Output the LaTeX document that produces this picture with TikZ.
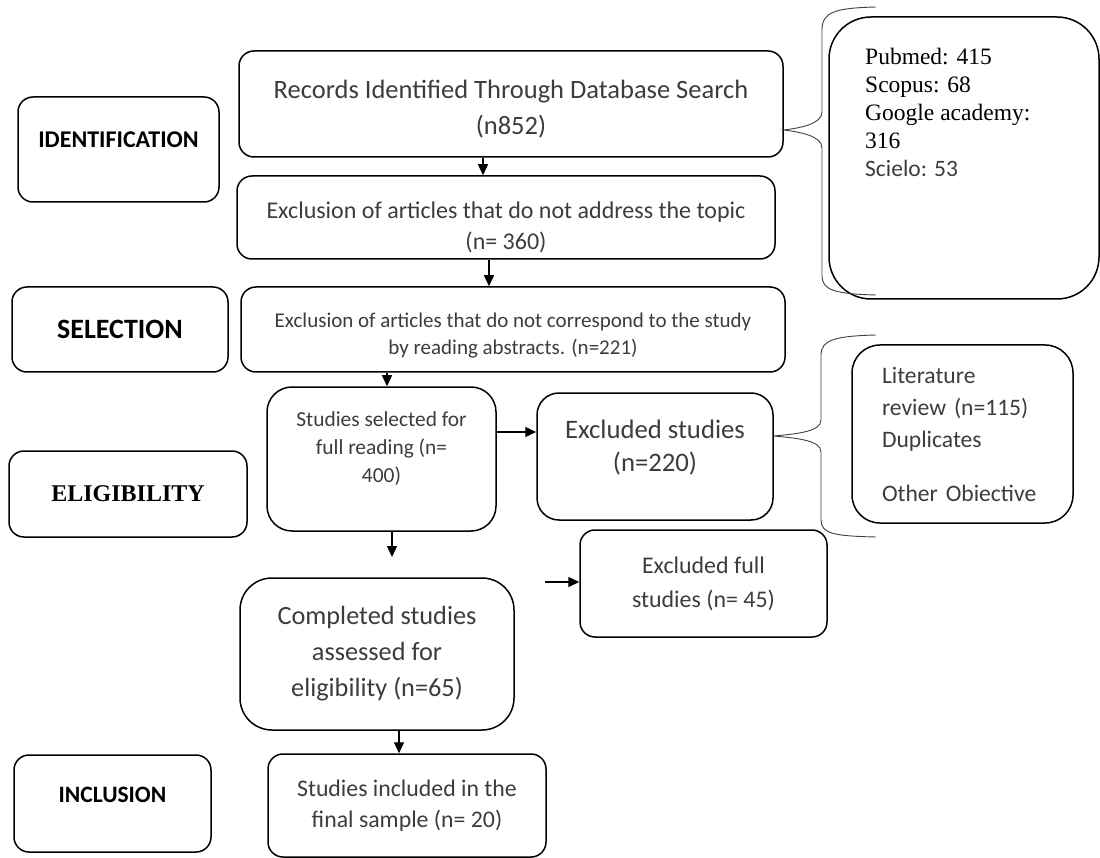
\documentclass[tikz,border=0pt]{standalone}
\usepackage{xcolor}
\usepackage{fontspec}
\setmainfont{Carlito}
\newfontfamily\timesfont{Liberation Serif}
\usepackage{tikz}
\usetikzlibrary{calc,arrows.meta}
\definecolor{txtgray}{HTML}{3C3C3C}
\tikzset{>={Triangle[length=11pt,width=10pt]},
  box/.style={draw, line width=1.5pt, rounded corners=15pt, align=center, text=txtgray, inner sep=0pt},
  stagebox/.style={box, text=black},
  arr/.style={->, line width=1.3pt},
  curly/.style={line width=0.9pt, draw=black!75}}

\begin{document}
\begin{tikzpicture}[x=1pt,y=-1pt]
        \useasboundingbox (0,0) rectangle (1100,858);

        \node[stagebox, minimum width=201pt, minimum height=105pt, font=\fontsize{24}{24}\selectfont\bfseries](ident) at (118.5,149.5){IDENTIFICATION\\[-4pt]};
        \node[stagebox, minimum width=216pt, minimum height=85pt, font=\fontsize{28}{30}\selectfont\bfseries](select) at (120,329.5){SELECTION};
        \node[stagebox, minimum width=238pt, minimum height=86pt, font=\timesfont\fontsize{24}{26}\selectfont\bfseries](elig) at (128,494){ELIGIBILITY};
        \node[stagebox, minimum width=197pt, minimum height=97pt, font=\fontsize{23.5}{24}\selectfont\bfseries](incl) at (112.5,803.5){INCLUSION\\[-7pt]};

        \node[box, minimum width=544pt, minimum height=106pt, font=\fontsize{26.5}{36}\selectfont](records) at (511,104){Records Identified Through Database Search\\(n852)\\[-42pt]};
        \node[box, minimum width=538pt, minimum height=83pt, font=\fontsize{24}{31}\selectfont](excl1) at (506,217.5){Exclusion of articles that do not address the topic\\(n= 360)\\[-47pt]};
        \node[box, minimum width=544pt, minimum height=85pt, font=\fontsize{21}{27}\selectfont](excl2) at (513,329.5){Exclusion of articles that do not correspond to the study\\by reading abstracts. (n=221)\\[-36pt]};
        \node[box, minimum width=229pt, minimum height=144pt, rounded corners=25pt, font=\fontsize{21.4}{28}\selectfont](studsel) at (381.5,459){Studies selected for\\full reading (n=\\400)\\[-4pt]};
        \node[box, minimum width=236pt, minimum height=127pt, rounded corners=22pt, font=\fontsize{26.7}{33}\selectfont](exstud) at (655,456.5){Excluded studies\\(n=220)\\[-11pt]};
        \node[box, minimum width=247pt, minimum height=107pt, font=\fontsize{23.9}{34}\selectfont](exfull) at (703.5,583.5){Excluded full\\studies (n= 45)};
        \node[box, minimum width=274pt, minimum height=152pt, rounded corners=32pt, font=\fontsize{26.3}{36}\selectfont](completed) at (377,654){Completed studies\\assessed for\\eligibility (n=65)};
        \node[box, minimum width=278pt, minimum height=103pt, font=\fontsize{23.8}{31}\selectfont](included) at (407,805.5){Studies included in the\\final sample (n= 20)};

        \node[box, minimum width=270pt, minimum height=282pt, rounded corners=42pt](db) at (964,158){};
        \node[anchor=north west, align=left, inner sep=0pt, font=\fontsize{23.5}{28}\selectfont](dbtext) at (865,48){\timesfont Pubmed: 415\\\timesfont Scopus: 68\\\timesfont Google academy:\\\timesfont 316\\\textcolor{txtgray}{Scielo: 53}};
        \node[box, minimum width=221pt, minimum height=178pt, rounded corners=28pt, text width=161pt, align=left, font=\fontsize{23.6}{32}\selectfont](lit) at (962.5,434){Literature\\review (n=115)\\Duplicates\\[22pt]Other Obiective\\[-38pt]};

        \coordinate (tip1) at ([yshift=-26pt]records.east);
        \coordinate (tip2) at ([yshift=20.5pt]exstud.east);
        \draw[curly](876,7) .. controls (835,8) and (822,12) .. (822,30) -- (822,112) .. controls (822,124) and (800,128) .. (tip1) .. controls (800,132) and (822,136) .. (822,148) -- (822,276) .. controls (822,290) and (835,294) .. (876,295);
        \draw[curly](876,335) .. controls (835,336) and (821,340) .. (821,355) -- (821,420) .. controls (821,432) and (795,434) .. (tip2) .. controls (795,438) and (821,440) .. (821,452) -- (821,520) .. controls (821,534) and (835,536) .. (876,537);

        \coordinate (free5) at (392,557);
        \coordinate (free6) at (545,582);
        \draw[arr]([xshift=-28pt]records.south)--([xshift=-23pt]excl1.north);
        \draw[arr]([xshift=-17pt]excl1.south)--([xshift=-24pt]excl2.north);
        \draw[arr]([xshift=-126pt]excl2.south)--([xshift=5.5pt]studsel.north);
        \draw[arr]([yshift=27pt]studsel.east)--([yshift=27pt]studsel.east -| exstud.west);
        \draw[arr](studsel.south -| free5)--(free5);
        \draw[arr](free6)--(free6 -| exfull.west);
        \draw[arr]([xshift=22pt]completed.south)--([xshift=-8pt]included.north);
    \end{tikzpicture}
\end{document}
